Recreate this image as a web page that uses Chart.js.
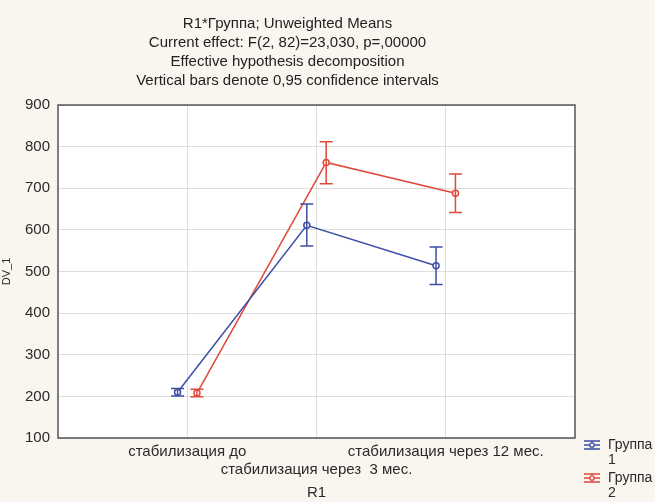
<!DOCTYPE html>
<html><head><meta charset="utf-8">
<script src="https://cdn.jsdelivr.net/npm/chart.js@4"></script>
<style>html,body{margin:0;padding:0;background:#f9f6f0;overflow:hidden}</style>
</head><body>
<canvas id="c" width="655" height="502"></canvas>
<script>
const titleLines = [
  'R1*Группа; Unweighted Means',
  'Current effect: F(2, 82)=23,030, p=,00000',
  'Effective hypothesis decomposition',
  'Vertical bars denote 0,95 confidence intervals'
];
const categories = ['стабилизация до', 'стабилизация через  3 мес.', 'стабилизация через 12 мес.'];
const xAxisTitle = 'R1';
const yAxisTitle = 'DV_1';
const yTicks = [100, 200, 300, 400, 500, 600, 700, 800, 900];
const seriesNames = [['Группа', '1'], ['Группа', '2']];
const group1Means = [210, 611, 514];
const group1Lower = [201, 561, 469];
const group1Upper = [219, 662, 559];
const group2Means = [208, 762, 688];
const group2Lower = [199, 711, 642];
const group2Upper = [217, 812, 734];

const BLUE = '#3d4ea6', RED = '#e0483c';
const OFFSET = 0.075;
const stats = [
  {mean: group1Means, lo: group1Lower, hi: group1Upper, color: BLUE, off: -OFFSET},
  {mean: group2Means, lo: group2Lower, hi: group2Upper, color: RED, off: OFFSET}
];

Chart.defaults.font.family = '"Liberation Sans", Arial, sans-serif';
Chart.defaults.color = '#2a2a2a';

const bgPlugin = {
  id: 'bg',
  beforeDraw(chart) {
    const {ctx, chartArea: a} = chart;
    ctx.save();
    ctx.fillStyle = '#f9f6f0';
    ctx.fillRect(0, 0, chart.width, chart.height);
    ctx.fillStyle = '#ffffff';
    ctx.fillRect(a.left, a.top, a.right - a.left, a.bottom - a.top);
    ctx.restore();
  },
  beforeDatasetsDraw(chart) {
    const {ctx, chartArea: a} = chart;
    ctx.save();
    ctx.strokeStyle = '#555';
    ctx.lineWidth = 1.5;
    ctx.strokeRect(a.left, a.top, a.right - a.left, a.bottom - a.top);
    ctx.restore();
  }
};

const errPlugin = {
  id: 'err',
  afterDatasetsDraw(chart) {
    const {ctx} = chart;
    const xs = chart.scales.x, ys = chart.scales.y;
    ctx.save();
    ctx.lineWidth = 1.5;
    stats.forEach(s => {
      ctx.strokeStyle = s.color;
      s.mean.forEach((m, i) => {
        const x = xs.getPixelForValue(i + 1 + s.off);
        const y1 = ys.getPixelForValue(s.lo[i]);
        const y2 = ys.getPixelForValue(s.hi[i]);
        ctx.beginPath();
        ctx.moveTo(x, y1); ctx.lineTo(x, y2);
        ctx.moveTo(x - 6.5, y1); ctx.lineTo(x + 6.5, y1);
        ctx.moveTo(x - 6.5, y2); ctx.lineTo(x + 6.5, y2);
        ctx.stroke();
      });
    });
    ctx.restore();
  }
};

const legendPlugin = {
  id: 'lg',
  afterDraw(chart) {
    const {ctx} = chart;
    ctx.save();
    ctx.font = '14px "Liberation Sans", Arial, sans-serif';
    ctx.textBaseline = 'middle';
    stats.forEach((s, k) => {
      const cy = 445 + k * 33;
      const x0 = 584, x1 = 600, cx = 592;
      ctx.strokeStyle = s.color;
      ctx.lineWidth = 1.3;
      ctx.beginPath();
      ctx.moveTo(x0, cy); ctx.lineTo(x1, cy);
      ctx.moveTo(x0, cy - 4); ctx.lineTo(x1, cy - 4);
      ctx.moveTo(x0, cy + 4); ctx.lineTo(x1, cy + 4);
      ctx.moveTo(cx, cy - 4); ctx.lineTo(cx, cy + 4);
      ctx.stroke();
      ctx.beginPath();
      ctx.fillStyle = '#fff';
      ctx.arc(cx, cy, 2.2, 0, Math.PI * 2);
      ctx.fill(); ctx.stroke();
      ctx.fillStyle = '#2a2a2a';
      seriesNames[k].forEach((t, j) => ctx.fillText(t, 608, cy + j * 15));
    });
    ctx.restore();
  }
};

new Chart(document.getElementById('c'), {
  type: 'line',
  data: {
    datasets: stats.map((s, k) => ({
      label: seriesNames[k].join(' '),
      data: s.mean.map((m, i) => ({x: i + 1 + s.off, y: m})),
      borderColor: s.color,
      backgroundColor: '#fff',
      borderWidth: 1.5,
      pointRadius: 3,
      pointBorderWidth: 1.5,
      pointBackgroundColor: '#fff',
      pointBorderColor: s.color,
      tension: 0
    }))
  },
  options: {
    responsive: false,
    animation: false,
    devicePixelRatio: 1,
    layout: {padding: {left: 0, right: 80, top: 0, bottom: 0}},
    plugins: {
      legend: {display: false},
      tooltip: {enabled: false},
      title: {
        display: true,
        text: titleLines,
        font: {size: 15, weight: 'normal', lineHeight: 1.267},
        color: '#222',
        padding: {top: 14.5, bottom: 14.5}
      }
    },
    scales: {
      x: {
        type: 'linear', min: 0, max: 4,
        afterBuildTicks: sc => { sc.ticks = [0, 1, 2, 3, 4].map(v => ({value: v})); },
        afterFit: sc => { sc.height = 64; },
        ticks: {
          autoSkip: false, maxRotation: 0, padding: 5,
          font: {size: 15, lineHeight: 1.2},
          callback: v => {
            if (v < 1 || v > 3) return '';
            const lab = categories[v - 1];
            return v === 2 ? ['', lab] : lab;
          }
        },
        grid: {
          drawTicks: false,
          color: c => (c.tick && (c.tick.value === 0 || c.tick.value === 4)) ? 'rgba(0,0,0,0)' : '#dedede'
        },
        border: {display: false},
        title: {display: true, text: xAxisTitle, font: {size: 15, lineHeight: 1.2}, padding: {top: 0, bottom: 0}}
      },
      y: {
        min: 100, max: 900,
        afterBuildTicks: sc => { sc.ticks = yTicks.map(v => ({value: v})); },
        afterFit: sc => { sc.width = 58; },
        ticks: {padding: 8, font: {size: 15}},
        grid: {drawTicks: false, color: '#dedede'},
        border: {display: false},
        title: {display: true, text: yAxisTitle, font: {size: 11}, padding: 0}
      }
    }
  },
  plugins: [bgPlugin, errPlugin, legendPlugin]
});
</script>
</body></html>
